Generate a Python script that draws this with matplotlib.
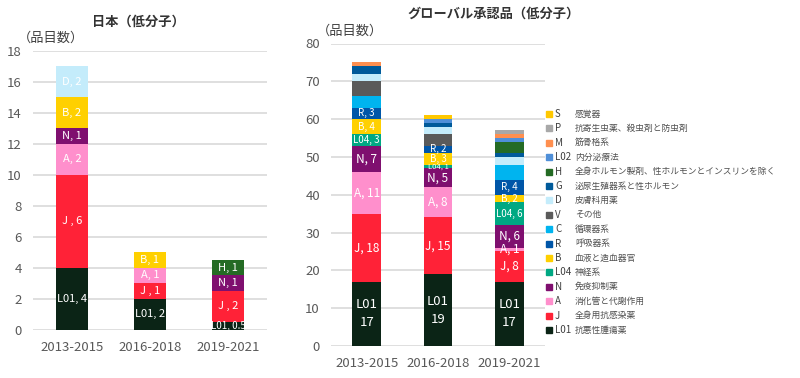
import numpy as np
import matplotlib
matplotlib.use('Agg')
from matplotlib import pyplot as plt
from matplotlib.patches import Rectangle

plt.rcParams['font.family'] = ['Noto Sans CJK JP', 'DejaVu Sans']

periods = ['2013-2015', '2016-2018', '2019-2021']

# ATC codes, bottom of stack first
codes = ['L01', 'J', 'A', 'N', 'L04', 'B', 'R', 'C', 'V', 'D', 'G', 'H', 'L02', 'M', 'P', 'S']
descriptions = ['抗悪性腫瘍薬', '全身用抗感染薬', '消化管と代謝作用', '免疫抑制薬', '神経系',
                '血液と造血器官', '呼吸器系', '循環器系', 'その他', '皮膚科用薬',
                '泌尿生殖器系と性ホルモン', '全身ホルモン製剤、性ホルモンとインスリンを除く',
                '内分泌療法', '筋骨格系', '抗寄生虫薬、殺虫剤と防虫剤', '感覚器']
colors = ['#0b2416', '#ff2237', '#ff8fcc', '#7f0f6f', '#00a883', '#ffd000', '#0056a8',
          '#00b4ef', '#5a5a5a', '#c4ecfb', '#005a9a', '#246b24', '#4f8fd8', '#ff8f4f',
          '#a8a8a8', '#ffc800']

# global approvals (small molecule)
glb_2013 = [17, 18, 11, 7, 3, 4, 3, 3, 4, 2, 2, 0, 0, 1, 0, 0]
glb_2016 = [19, 15, 8, 5, 1, 3, 2, 0, 3, 2, 1, 0, 1, 0, 0, 1]
glb_2019 = [17, 8, 1, 6, 6, 2, 4, 4, 0, 2, 1, 3, 1, 1, 1, 0]
glb_labeled = ['L01', 'J', 'A', 'N', 'L04', 'B', 'R']

# Japan (small molecule)
jp_codes = ['L01', 'J', 'A', 'N', 'B', 'D', 'H']
jp_2013 = [4, 6, 2, 1, 2, 2, 0]
jp_2016 = [2, 1, 1, 0, 1, 0, 0]
jp_2019 = [0.5, 2, 0, 1, 0, 0, 1]

W, H = 800, 378
fig = plt.figure(figsize=(W / 100, H / 100), dpi=100)

tick_col = '#595959'
grid_col = '#d9d9d9'


def px_axes(x0, x1, y_top, y_bot):
    return fig.add_axes([x0 / W, 1 - y_bot / H, (x1 - x0) / W, (y_bot - y_top) / H])


def style(ax, ymax, step):
    ax.set_xlim(-0.5, 2.5)
    ax.set_ylim(0, ymax)
    ax.set_yticks(np.arange(0, ymax + 0.1, step))
    ax.set_xticks(range(3))
    ax.set_xticklabels(periods)
    for s in ax.spines.values():
        s.set_visible(False)
    ax.yaxis.grid(True, color=grid_col, linewidth=1.2)
    ax.set_axisbelow(True)
    ax.tick_params(length=0, colors=tick_col, labelsize=9.5)
    ax.tick_params(axis='x', pad=8)
    ax.tick_params(axis='y', pad=8)


def fmt(v):
    return str(v) if v != int(v) else str(int(v))


# ---- Japan
ax1 = px_axes(33, 267, 50.7, 329.7)
style(ax1, 18, 2)
jp_data = [jp_2013, jp_2016, jp_2019]
for i, vals in enumerate(jp_data):
    bottom = 0
    for code, v in zip(jp_codes, vals):
        if v == 0:
            continue
        col = colors[codes.index(code)]
        bar = ax1.bar(i, v, 0.4, bottom=bottom, color=col)[0]
        sep = ' , ' if code == 'J' else ', '
        t = ax1.text(i, bottom + v / 2, code + sep + fmt(v), color='white',
                     ha='center', va='center', fontsize=8 if v >= 1 else 7)
        t.set_clip_path(bar)
        bottom += v
fig.text(138 / W, 1 - 22 / H, '日本（低分子）', ha='center', va='center',
         fontsize=9.5, fontweight='bold', color='#333333')
fig.text(18 / W, 1 - 38 / H, '（品目数）', ha='left', va='center',
         fontsize=9.5, color='#404040')

# ---- Global
ax2 = px_axes(331, 545, 43.5, 346)
style(ax2, 80, 10)
glb_data = [glb_2013, glb_2016, glb_2019]
for i, vals in enumerate(glb_data):
    bottom = 0
    for code, v, col in zip(codes, vals, colors):
        if v == 0:
            continue
        bar = ax2.bar(i, v, 0.4, bottom=bottom, color=col)[0]
        if code in glb_labeled:
            if code == 'L01':
                lab, fs = 'L01\n' + fmt(v), 9.5
            elif code in ('J', 'A', 'N'):
                lab, fs = code + ', ' + fmt(v), 8.5
            elif v < 2:
                lab, fs = code + ', ' + fmt(v), 5.5
            else:
                lab, fs = code + ', ' + fmt(v), 7
            t = ax2.text(i, bottom + v / 2, lab, color='white', ha='center',
                         va='center', fontsize=fs, linespacing=1.5)
            t.set_clip_path(bar)
        bottom += v
fig.text(494 / W, 1 - 14 / H, 'グローバル承認品（低分子）', ha='center', va='center',
         fontsize=9.5, fontweight='bold', color='#333333')
fig.text(317 / W, 1 - 31 / H, '（品目数）', ha='left', va='center',
         fontsize=9.5, color='#404040')

# ---- legend (top row = last code)
y0, dy = 114, 14.4
for k, idx in enumerate(range(len(codes) - 1, -1, -1)):
    y = y0 + k * dy
    fig.patches.append(Rectangle((546 / W, 1 - (y + 3) / H), 6 / W, 6 / H,
                                 transform=fig.transFigure, color=colors[idx]))
    fig.text(555 / W, 1 - y / H, codes[idx], ha='left', va='center',
             fontsize=7, color='#404040')
    fig.text(575 / W, 1 - y / H, descriptions[idx], ha='left', va='center',
             fontsize=6.3, color='#505050')

fig.savefig('out.png', dpi=100)
